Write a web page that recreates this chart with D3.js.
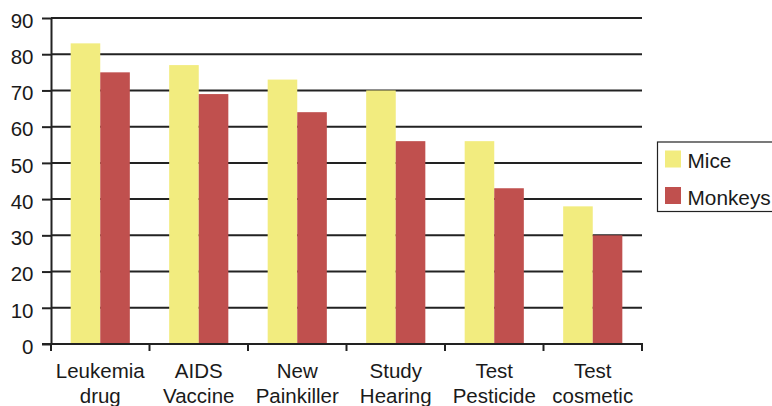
<!DOCTYPE html>
<html>
<head>
<meta charset="utf-8">
<script src="https://cdn.jsdelivr.net/npm/d3@7"></script>
<style>
  html, body { margin: 0; padding: 0; background: #fff; }
  svg { display: block; }
  text { font-family: "Liberation Sans", Arial, Helvetica, sans-serif; fill: #1a1a1a; }
</style>
</head>
<body>
<svg id="chart" width="772" height="406"></svg>
<script>
// Survey categories (two-line labels) and percentages per series
const categories = [
  ["Leukemia", "drug"],
  ["AIDS", "Vaccine"],
  ["New", "Painkiller"],
  ["Study", "Hearing"],
  ["Test", "Pesticide"],
  ["Test", "cosmetic"]
];
const seriesNames = ["Mice", "Monkeys"];
const mice = [83, 77, 73, 70, 56, 38];
const monkeys = [75, 69, 64, 56, 43, 30];
const colors = ["#f2ec7f", "#c0504e"];
const yTicks = [0, 10, 20, 30, 40, 50, 60, 70, 80, 90];

const svg = d3.select("#chart");
const plotLeft = 51, plotRight = 642, plotTop = 18, plotBottom = 344;

const x = d3.scaleBand()
  .domain(categories.map((d, i) => i))
  .range([plotLeft, plotRight])
  .paddingInner(0)
  .paddingOuter(0);

const inner = d3.scaleBand()
  .domain(seriesNames)
  .range([0, x.bandwidth()])
  .paddingInner(0)
  .paddingOuter(0.665);

const y = d3.scaleLinear().domain([0, 90]).range([plotBottom, plotTop]);

// Horizontal grid lines
svg.append("g")
  .selectAll("line")
  .data(yTicks.filter(t => t > 0))
  .join("line")
  .attr("x1", plotLeft)
  .attr("x2", plotRight)
  .attr("y1", d => y(d))
  .attr("y2", d => y(d))
  .attr("stroke", "#222")
  .attr("stroke-width", 2);

// Bars
const rows = categories.map((c, i) => ({ i, values: [mice[i], monkeys[i]] }));
svg.append("g")
  .selectAll("g")
  .data(rows)
  .join("g")
  .attr("transform", d => `translate(${x(d.i)},0)`)
  .selectAll("rect")
  .data(d => d.values.map((v, k) => ({ name: seriesNames[k], v, k })))
  .join("rect")
  .attr("x", d => inner(d.name))
  .attr("width", inner.bandwidth())
  .attr("y", d => y(d.v))
  .attr("height", d => y(0) - y(d.v))
  .attr("fill", d => colors[d.k]);

// Y axis
const yAxis = svg.append("g")
  .attr("transform", `translate(${plotLeft},0)`)
  .call(d3.axisLeft(y).tickValues(yTicks).tickSize(9).tickPadding(8.5).tickSizeOuter(0));
yAxis.select(".domain").attr("stroke", "#222").attr("stroke-width", 2);
yAxis.selectAll(".tick line").attr("stroke", "#222").attr("stroke-width", 2);
yAxis.selectAll(".tick text")
  .style("font-family", "'Liberation Sans', Arial, sans-serif")
  .style("font-size", "20.5px")
  .attr("dy", "0.45em")
  .attr("fill", "#1a1a1a");

// X axis with ticks at band boundaries
const xAxisG = svg.append("g").attr("transform", `translate(0,${plotBottom})`);
xAxisG.append("line")
  .attr("x1", plotLeft - 9).attr("x2", plotRight + 1)
  .attr("y1", 0).attr("y2", 0)
  .attr("stroke", "#222").attr("stroke-width", 2);
const bounds = categories.map((c, i) => x(i)).concat([plotRight]);
xAxisG.selectAll("line.tk")
  .data(bounds)
  .join("line")
  .attr("class", "tk")
  .attr("x1", d => d).attr("x2", d => d)
  .attr("y1", 0).attr("y2", 7)
  .attr("stroke", "#222").attr("stroke-width", 2);

// Category labels
const labels = svg.append("g")
  .selectAll("text")
  .data(categories)
  .join("text")
  .attr("text-anchor", "middle")
  .attr("x", (d, i) => x(i) + x.bandwidth() / 2)
  .attr("y", 378)
  .style("font-size", "20.5px");
labels.selectAll("tspan")
  .data(d => d)
  .join("tspan")
  .attr("x", function () { return d3.select(this.parentNode).attr("x"); })
  .attr("dy", (d, j) => j === 0 ? 0 : 25)
  .text(d => d);

// Legend
const legend = svg.append("g");
legend.append("rect")
  .attr("x", 657.5).attr("y", 142)
  .attr("width", 130).attr("height", 69.5)
  .attr("fill", "#fff")
  .attr("stroke", "#222").attr("stroke-width", 1.2);
const items = legend.selectAll("g")
  .data(seriesNames)
  .join("g")
  .attr("transform", (d, i) => `translate(665,${150.5 + i * 36.5})`);
items.append("rect")
  .attr("width", 16).attr("height", 17)
  .attr("fill", (d, i) => colors[i]);
items.append("text")
  .attr("x", 22.5).attr("y", 17.8)
  .style("font-size", "20.8px")
  .text(d => d);
</script>
</body>
</html>
